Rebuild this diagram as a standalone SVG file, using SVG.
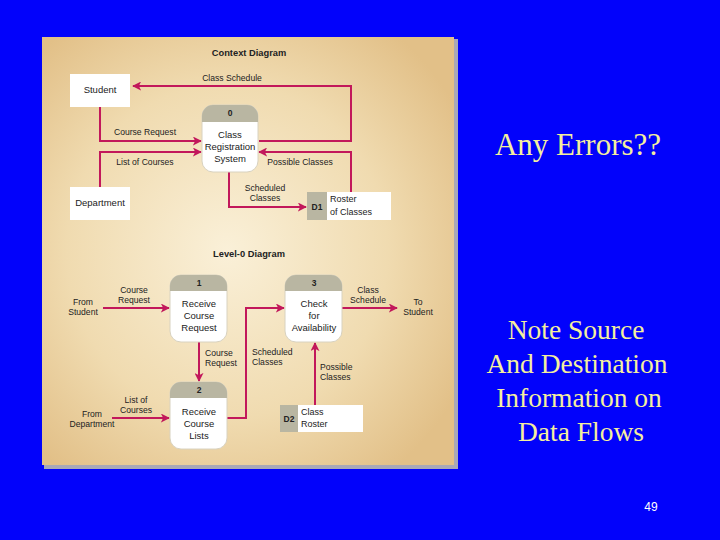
<svg xmlns="http://www.w3.org/2000/svg" width="720" height="540" viewBox="0 0 720 540">
<defs>
<radialGradient id="bg" cx="0.45" cy="0.5" r="0.65">
<stop offset="0" stop-color="#faf0d8"/>
<stop offset="0.6" stop-color="#f0dbb0"/>
<stop offset="1" stop-color="#e2c088"/>
</radialGradient>
<marker id="ah" viewBox="0 0 10 10" refX="9" refY="5" markerWidth="4.5" markerHeight="4.5" orient="auto" markerUnits="strokeWidth">
<path d="M0,0 L10,5 L0,10 L2.5,5 z" fill="#c2185b"/>
</marker>
<clipPath id="c0"><rect x="202" y="105" width="56" height="67" rx="11"/></clipPath>
<clipPath id="c1"><rect x="170" y="275" width="57" height="67" rx="11"/></clipPath>
<clipPath id="c2"><rect x="170" y="382" width="57" height="67" rx="11"/></clipPath>
<clipPath id="c3"><rect x="285" y="275" width="57" height="67" rx="11"/></clipPath>
</defs>
<style>
.lbl{font-family:"Liberation Sans",Arial,sans-serif;font-size:8.6px;fill:#222}
.ptxt{font-family:"Liberation Sans",Arial,sans-serif;font-size:9.5px;fill:#222;text-anchor:middle}
.num{font-family:"Liberation Sans",Arial,sans-serif;font-size:8.5px;font-weight:bold;fill:#222;text-anchor:middle}
.ttl{font-family:"Liberation Sans",Arial,sans-serif;font-size:9.3px;font-weight:bold;fill:#222;text-anchor:middle}
.flow{fill:none;stroke:#c2185b;stroke-width:2;marker-end:url(#ah)}
.ext{fill:#ffffff}
.hdr{fill:#b9b6a2}
.big{font-family:"Liberation Serif","Times New Roman",serif;font-size:27.5px;fill:#f4ef9e;text-anchor:middle}
.mid{text-anchor:middle}
</style>
<rect x="0" y="0" width="720" height="540" fill="#0202fb"/>
<rect x="44" y="39" width="414" height="430" fill="#a8a8b8"/>
<rect x="42" y="37" width="412" height="428" fill="url(#bg)"/>

<text class="ttl" x="249" y="56">Context Diagram</text>
<text class="ttl" x="249" y="257">Level-0 Diagram</text>

<g id="connectors">
<polyline class="flow" points="259,141 351,141 351,86 133,86"/>
<polyline class="flow" points="100,107 100,141 201,141"/>
<polyline class="flow" points="100,187 100,152 201,152"/>
<polyline class="flow" points="351,192 351,152 259,152"/>
<polyline class="flow" points="229,172 229,207 306,207"/>
<polyline class="flow" points="103,308 169,308"/>
<polyline class="flow" points="112,418 169,418"/>
<polyline class="flow" points="199,342 199,381"/>
<polyline class="flow" points="227,418 246,418 246,308 284,308"/>
<polyline class="flow" points="342,308 397,308"/>
<polyline class="flow" points="315,405 315,343"/>
</g>

<g id="labels">
<text class="lbl mid" x="232" y="81">Class Schedule</text>
<text class="lbl mid" x="145" y="135">Course  Request</text>
<text class="lbl mid" x="145" y="165">List of Courses</text>
<text class="lbl mid" x="300" y="165">Possible Classes</text>
<text class="lbl mid" x="265" y="191">Scheduled</text>
<text class="lbl mid" x="265" y="201">Classes</text>
<text class="lbl mid" x="83" y="305">From</text>
<text class="lbl mid" x="83" y="315">Student</text>
<text class="lbl mid" x="134" y="293">Course</text>
<text class="lbl mid" x="134" y="303">Request</text>
<text class="lbl mid" x="92" y="417">From</text>
<text class="lbl mid" x="92" y="427">Department</text>
<text class="lbl mid" x="136" y="403">List of</text>
<text class="lbl mid" x="136" y="413">Courses</text>
<text class="lbl" x="205" y="356">Course</text>
<text class="lbl" x="205" y="366">Request</text>
<text class="lbl" x="252" y="355">Scheduled</text>
<text class="lbl" x="252" y="365">Classes</text>
<text class="lbl mid" x="368" y="293">Class</text>
<text class="lbl mid" x="368" y="303">Schedule</text>
<text class="lbl mid" x="418" y="305">To</text>
<text class="lbl mid" x="418" y="315">Student</text>
<text class="lbl" x="320" y="370">Possible</text>
<text class="lbl" x="320" y="380">Classes</text>
</g>

<g id="student">
<rect class="ext" x="70" y="74" width="60" height="33"/>
<text class="ptxt" x="100" y="93">Student</text>
</g>
<g id="department">
<rect class="ext" x="70" y="187" width="60" height="33"/>
<text class="ptxt" x="100" y="206">Department</text>
</g>

<g id="p0">
<rect x="202" y="105" width="56" height="67" rx="11" fill="#fff" stroke="#d8d2c0" stroke-width="1"/>
<rect class="hdr" x="202" y="105" width="56" height="17" clip-path="url(#c0)"/>
<text class="num" x="230" y="116">0</text>
<text class="ptxt" x="230" y="138">Class</text>
<text class="ptxt" x="230" y="150">Registration</text>
<text class="ptxt" x="230" y="162">System</text>
</g>

<g id="d1">
<rect class="hdr" x="307" y="192" width="20" height="28"/>
<rect class="ext" x="327" y="192" width="64" height="28"/>
<text class="num" x="317" y="210">D1</text>
<text class="lbl" x="330" y="202" style="font-size:9px">Roster</text>
<text class="lbl" x="330" y="215" style="font-size:9px">of Classes</text>
</g>

<g id="p1">
<rect x="170" y="275" width="57" height="67" rx="11" fill="#fff" stroke="#d8d2c0" stroke-width="1"/>
<rect class="hdr" x="170" y="275" width="57" height="16" clip-path="url(#c1)"/>
<text class="num" x="199" y="286">1</text>
<text class="ptxt" x="199" y="307">Receive</text>
<text class="ptxt" x="199" y="319">Course</text>
<text class="ptxt" x="199" y="331">Request</text>
</g>

<g id="p2">
<rect x="170" y="382" width="57" height="67" rx="11" fill="#fff" stroke="#d8d2c0" stroke-width="1"/>
<rect class="hdr" x="170" y="382" width="57" height="16" clip-path="url(#c2)"/>
<text class="num" x="199" y="393">2</text>
<text class="ptxt" x="199" y="415">Receive</text>
<text class="ptxt" x="199" y="427">Course</text>
<text class="ptxt" x="199" y="439">Lists</text>
</g>

<g id="p3">
<rect x="285" y="275" width="57" height="67" rx="11" fill="#fff" stroke="#d8d2c0" stroke-width="1"/>
<rect class="hdr" x="285" y="275" width="57" height="16" clip-path="url(#c3)"/>
<text class="num" x="314" y="286">3</text>
<text class="ptxt" x="314" y="307">Check</text>
<text class="ptxt" x="314" y="319">for</text>
<text class="ptxt" x="314" y="331">Availability</text>
</g>

<g id="d2">
<rect class="hdr" x="280" y="405" width="18" height="27"/>
<rect class="ext" x="298" y="405" width="65" height="27"/>
<text class="num" x="289" y="422">D2</text>
<text class="lbl" x="301" y="415" style="font-size:9px">Class</text>
<text class="lbl" x="301" y="427" style="font-size:9px">Roster</text>
</g>

<text class="big" x="578" y="155" style="font-size:31px">Any Errors??</text>
<text class="big" x="576" y="339">Note Source</text>
<text class="big" x="577" y="373">And Destination</text>
<text class="big" x="579" y="407">Information on</text>
<text class="big" x="581" y="441">Data Flows</text>
<text x="651" y="511" style="font-family:'Liberation Sans',Arial,sans-serif;font-size:12px;fill:#ffffff" text-anchor="middle">49</text>
</svg>
